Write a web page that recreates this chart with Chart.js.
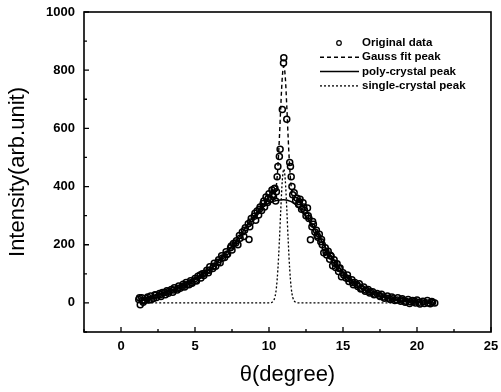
<!DOCTYPE html>
<html>
<head>
<meta charset="utf-8">
<script src="https://cdn.jsdelivr.net/npm/chart.js@4"></script>
<style>
  html, body { margin: 0; padding: 0; background: #fff; }
  #wrap { width: 501px; height: 392px; }
</style>
</head>
<body>
<div id="wrap"><canvas id="myChart" width="501" height="392"></canvas></div>
<script>
// measured points (theta, intensity)
const origX = [1.2, 1.3, 1.4, 1.5, 1.6, 1.8, 1.9, 2.0, 2.2, 2.3, 2.4, 2.6, 2.7, 2.8, 3.0, 3.1, 3.2, 3.4, 3.5, 3.6,
  3.8, 3.9, 4.0, 4.2, 4.3, 4.4, 4.6, 4.7, 4.8, 5.0, 5.1, 5.2, 5.4, 5.5, 5.6, 5.8, 5.9, 6.0, 6.2, 6.3,
  6.4, 6.6, 6.7, 6.8, 7.0, 7.1, 7.2, 7.4, 7.5, 7.6, 7.8, 7.9, 8.0, 8.2, 8.3, 8.4, 8.6, 8.65, 8.7, 8.8,
  9.0, 9.1, 9.2, 9.3, 9.4, 9.5, 9.6, 9.7, 9.8, 9.9, 10.0, 10.1, 10.2, 10.3, 10.4, 10.45, 10.5, 10.55, 10.6, 10.7,
  10.75, 10.9, 10.98, 11.0, 11.2, 11.4, 11.45, 11.5, 11.55, 11.6, 11.7, 11.8, 11.9, 12.0, 12.1, 12.2, 12.3, 12.4, 12.5, 12.6,
  12.7, 12.8, 12.9, 13.0, 13.1, 13.2, 13.3, 13.4, 13.5, 13.6, 13.7, 13.8, 13.9, 14.0, 14.1, 14.2, 14.3, 14.4, 14.5, 14.6,
  14.7, 14.8, 14.9, 15.0, 15.2, 15.3, 15.4, 15.6, 15.7, 15.8, 16.0, 16.1, 16.2, 16.4, 16.5, 16.7, 16.8, 17.0, 17.1, 17.3,
  17.5, 17.6, 17.8, 18.0, 18.2, 18.3, 18.5, 18.7, 18.9, 19.0, 19.2, 19.4, 19.5, 19.7, 19.9, 20.0, 20.2, 20.4, 20.5, 20.7,
  20.9, 21.0, 21.2];
const origY = [12, -6, 18, 2, 8, 20, 10, 24, 15, 28, 19, 32, 22, 36, 28, 42, 33, 46, 37, 52,
  44, 58, 50, 64, 55, 70, 62, 76, 68, 84, 75, 92, 86, 100, 94, 112, 104, 124, 118, 136,
  126, 148, 138, 162, 156, 176, 168, 190, 182, 204, 214, 200, 232, 244, 228, 258, 272, 218, 262, 290,
  298, 284, 316, 302, 330, 318, 342, 330, 364, 345, 375, 356, 388, 366, 394, 350, 382, 434, 469, 503,
  528, 665, 825, 843, 631, 483, 469, 434, 400, 372, 379, 352, 360, 338, 356, 322, 344, 318, 300, 326,
  290, 217, 262, 270, 244, 250, 226, 236, 210, 200, 172, 190, 165, 178, 150, 160, 128, 148, 122, 135,
  108, 120, 90, 104, 86, 96, 74, 80, 62, 70, 56, 66, 48, 55, 40, 46, 34, 38, 28, 32,
  22, 30, 16, 24, 12, 20, 8, 18, 6, 14, 2, 12, -2, 8, 0, 10, -4, 6, -2, 8,
  -3, 5, 0];
// second pass of the scan
const origXb = [1.25, 1.45, 1.75, 2.05, 2.35, 2.65, 2.95, 3.25, 3.55, 3.85, 4.15, 4.45, 4.75, 5.05, 5.35, 5.65, 5.95, 6.25, 6.55, 6.85,
  7.15, 7.45, 7.75, 8.05, 8.35, 8.75, 9.05, 9.35, 9.65, 9.95, 10.25, 10.35, 12.05, 12.35, 12.65, 12.95, 13.25, 13.55, 13.85, 14.15,
  14.45, 14.75, 15.05, 15.35, 15.65, 15.95, 16.25, 16.55, 16.85, 17.15, 17.45, 17.75, 18.05, 18.35, 18.65, 18.95, 19.25, 19.55, 19.85, 20.15,
  20.45, 20.75, 21.05];
const origYb = [18, 8, 14, 12, 26, 28, 36, 40, 44, 50, 56, 62, 70, 78, 96, 102, 112, 126, 140, 154,
  166, 196, 206, 222, 250, 278, 308, 322, 350, 360, 372, 392, 348, 330, 300, 280, 232, 218, 176, 164,
  136, 118, 96, 84, 70, 62, 50, 44, 38, 30, 26, 20, 16, 14, 10, 10, 6, 4, 6, 2,
  4, 0, 2];

// Gauss fit peak (sum of both components)
const fitX = [1.5, 2.0, 2.5, 3.0, 3.5, 4.0, 4.5, 5.0, 5.5, 6.0, 6.5, 7.0, 7.5, 8.0, 8.5, 9.0, 9.5, 10.0,
  10.2, 10.3, 10.4, 10.5, 10.6, 10.7, 10.8, 10.9, 11.0, 11.1, 11.2, 11.3, 11.4, 11.5, 11.6, 11.7, 11.8, 11.9,
  12.0, 12.5, 13.0, 13.5, 14.0, 14.5, 15.0, 15.5, 16.0, 16.5, 17.0, 17.5, 18.0, 18.5, 19.0, 19.5, 20.0, 20.5, 21.0];
const fitY = [14, 20, 27, 35, 44, 55, 66, 80, 96, 116, 139, 165, 195, 228, 265, 300, 327, 343,
  348, 355, 370, 404, 468, 565, 680, 777, 815, 776, 678, 562, 464, 400, 365, 348, 339, 333,
  328, 298, 260, 218, 176, 140, 106, 78, 58, 44, 32, 23, 17, 13, 9, 7, 5, 3, 2];

// poly-crystal peak
const polyX = [1.5, 2.0, 2.5, 3.0, 3.5, 4.0, 4.5, 5.0, 5.5, 6.0, 6.5, 7.0, 7.5, 8.0, 8.5, 9.0, 9.5, 10.0, 10.5,
  11.0, 11.5, 12.0, 12.5, 13.0, 13.5, 14.0, 14.5, 15.0, 15.5, 16.0, 16.5, 17.0, 17.5, 18.0, 18.5, 19.0, 19.5, 20.0, 20.5, 21.0];
const polyY = [14, 20, 27, 35, 44, 55, 66, 80, 96, 116, 139, 165, 195, 228, 265, 300, 327, 343, 352,
  355, 348, 328, 298, 260, 218, 176, 140, 106, 78, 58, 44, 32, 23, 17, 13, 9, 7, 5, 3, 2];

// single-crystal peak
const singleX = [1.5, 10.1, 10.2, 10.3, 10.4, 10.5, 10.6, 10.7, 10.8, 10.9, 11.0, 11.1, 11.2, 11.3, 11.4, 11.5, 11.6, 11.7, 11.8, 11.9, 21.0];
const singleY = [0, 0, 2, 7, 20, 52, 115, 211, 325, 422, 460, 422, 325, 211, 115, 52, 20, 7, 2, 0, 0];

const xTicks = [0, 5, 10, 15, 20, 25];
const yTicks = [0, 200, 400, 600, 800, 1000];

function toPoints(xs, ys) {
  return xs.map((x, i) => ({ x: x, y: ys[i] }));
}

const FONT = "'Liberation Sans', Arial, sans-serif";

// frame, inside ticks and the legend box
const framePlugin = {
  id: 'frame',
  afterDraw(chart) {
    const ctx = chart.ctx;
    const a = chart.chartArea;
    const xs = chart.scales.x;
    const ys = chart.scales.y;
    ctx.save();
    ctx.strokeStyle = '#000';
    ctx.lineWidth = 1.6;
    ctx.strokeRect(a.left, a.top, a.right - a.left, a.bottom - a.top);

    ctx.lineWidth = 1.3;
    ctx.beginPath();
    for (let v = -2.5; v <= 25; v += 2.5) {
      const px = xs.getPixelForValue(v);
      const len = v % 5 === 0 ? 5 : 3;
      ctx.moveTo(px, a.bottom);
      ctx.lineTo(px, a.bottom - len);
    }
    for (let v = -100; v <= 1000; v += 100) {
      const py = ys.getPixelForValue(v);
      const len = v % 200 === 0 ? 5 : 3;
      ctx.moveTo(a.left, py);
      ctx.lineTo(a.left + len, py);
    }
    ctx.stroke();

    // legend
    const ds = chart.data.datasets;
    const lx = 320, tx = 362;
    let ly = 43;
    ctx.font = 'bold 11.5px ' + FONT;
    ctx.textBaseline = 'middle';
    ctx.fillStyle = '#000';
    ds.forEach((d, i) => {
      ctx.beginPath();
      ctx.lineWidth = d.borderWidth || 1;
      if (i === 0) {
        ctx.setLineDash([]);
        ctx.lineWidth = 1.2;
        ctx.arc(339, ly, 2.3, 0, Math.PI * 2);
      } else {
        ctx.setLineDash(d.borderDash || []);
        ctx.moveTo(lx, ly);
        ctx.lineTo(359, ly);
      }
      ctx.stroke();
      ctx.setLineDash([]);
      ctx.fillText(d.label, tx, ly);
      ly += 14.3;
    });
    ctx.restore();
  }
};

const ctx = document.getElementById('myChart').getContext('2d');
const chart = new Chart(ctx, {
  type: 'scatter',
  data: {
    datasets: [
      {
        label: 'Original data',
        data: toPoints(origX.concat(origXb), origY.concat(origYb)),
        showLine: false,
        pointStyle: 'circle',
        pointRadius: 3,
        borderWidth: 1.5,
        borderColor: '#000',
        backgroundColor: 'rgba(255,255,255,0)'
      },
      {
        label: 'Gauss fit peak',
        data: toPoints(fitX, fitY),
        showLine: true,
        pointRadius: 0,
        borderColor: '#000',
        borderWidth: 1.4,
        borderDash: [4, 3],
        cubicInterpolationMode: 'monotone'
      },
      {
        label: 'poly-crystal peak',
        data: toPoints(polyX, polyY),
        showLine: true,
        pointRadius: 0,
        borderColor: '#000',
        borderWidth: 1.5,
        cubicInterpolationMode: 'monotone'
      },
      {
        label: 'single-crystal peak',
        data: toPoints(singleX, singleY),
        showLine: true,
        pointRadius: 0,
        borderColor: '#000',
        borderWidth: 1.3,
        borderDash: [2, 2],
        cubicInterpolationMode: 'monotone'
      }
    ]
  },
  options: {
    responsive: false,
    animation: false,
    layout: { padding: { top: 12, right: 10, left: 0, bottom: 0 } },
    plugins: {
      legend: { display: false },
      tooltip: { enabled: false }
    },
    scales: {
      x: {
        type: 'linear',
        min: -2.5,
        max: 25,
        afterBuildTicks: s => { s.ticks = xTicks.map(v => ({ value: v })); },
        afterFit: s => { s.height = 60; s.paddingLeft = 0; s.paddingRight = 0; },
        grid: { display: false, drawTicks: false },
        border: { display: false },
        ticks: { color: '#000', padding: 7, callback: v => String(v), font: { family: FONT, size: 13, weight: 'bold' } },
        title: { display: true, text: 'θ(degree)', color: '#000', padding: { top: 4 }, font: { family: FONT, size: 22 } }
      },
      y: {
        type: 'linear',
        min: -100,
        max: 1000,
        afterBuildTicks: s => { s.ticks = yTicks.map(v => ({ value: v })); },
        afterFit: s => { s.width = 84; s.paddingTop = 0; s.paddingBottom = 0; },
        grid: { display: false, drawTicks: false },
        border: { display: false },
        ticks: { color: '#000', padding: 9, callback: v => String(v), font: { family: FONT, size: 13, weight: 'bold' } },
        title: { display: true, text: 'Intensity(arb.unit)', color: '#000', padding: { top: 5, bottom: 0 }, font: { family: FONT, size: 22 } }
      }
    }
  },
  plugins: [framePlugin]
});
</script>
</body>
</html>
